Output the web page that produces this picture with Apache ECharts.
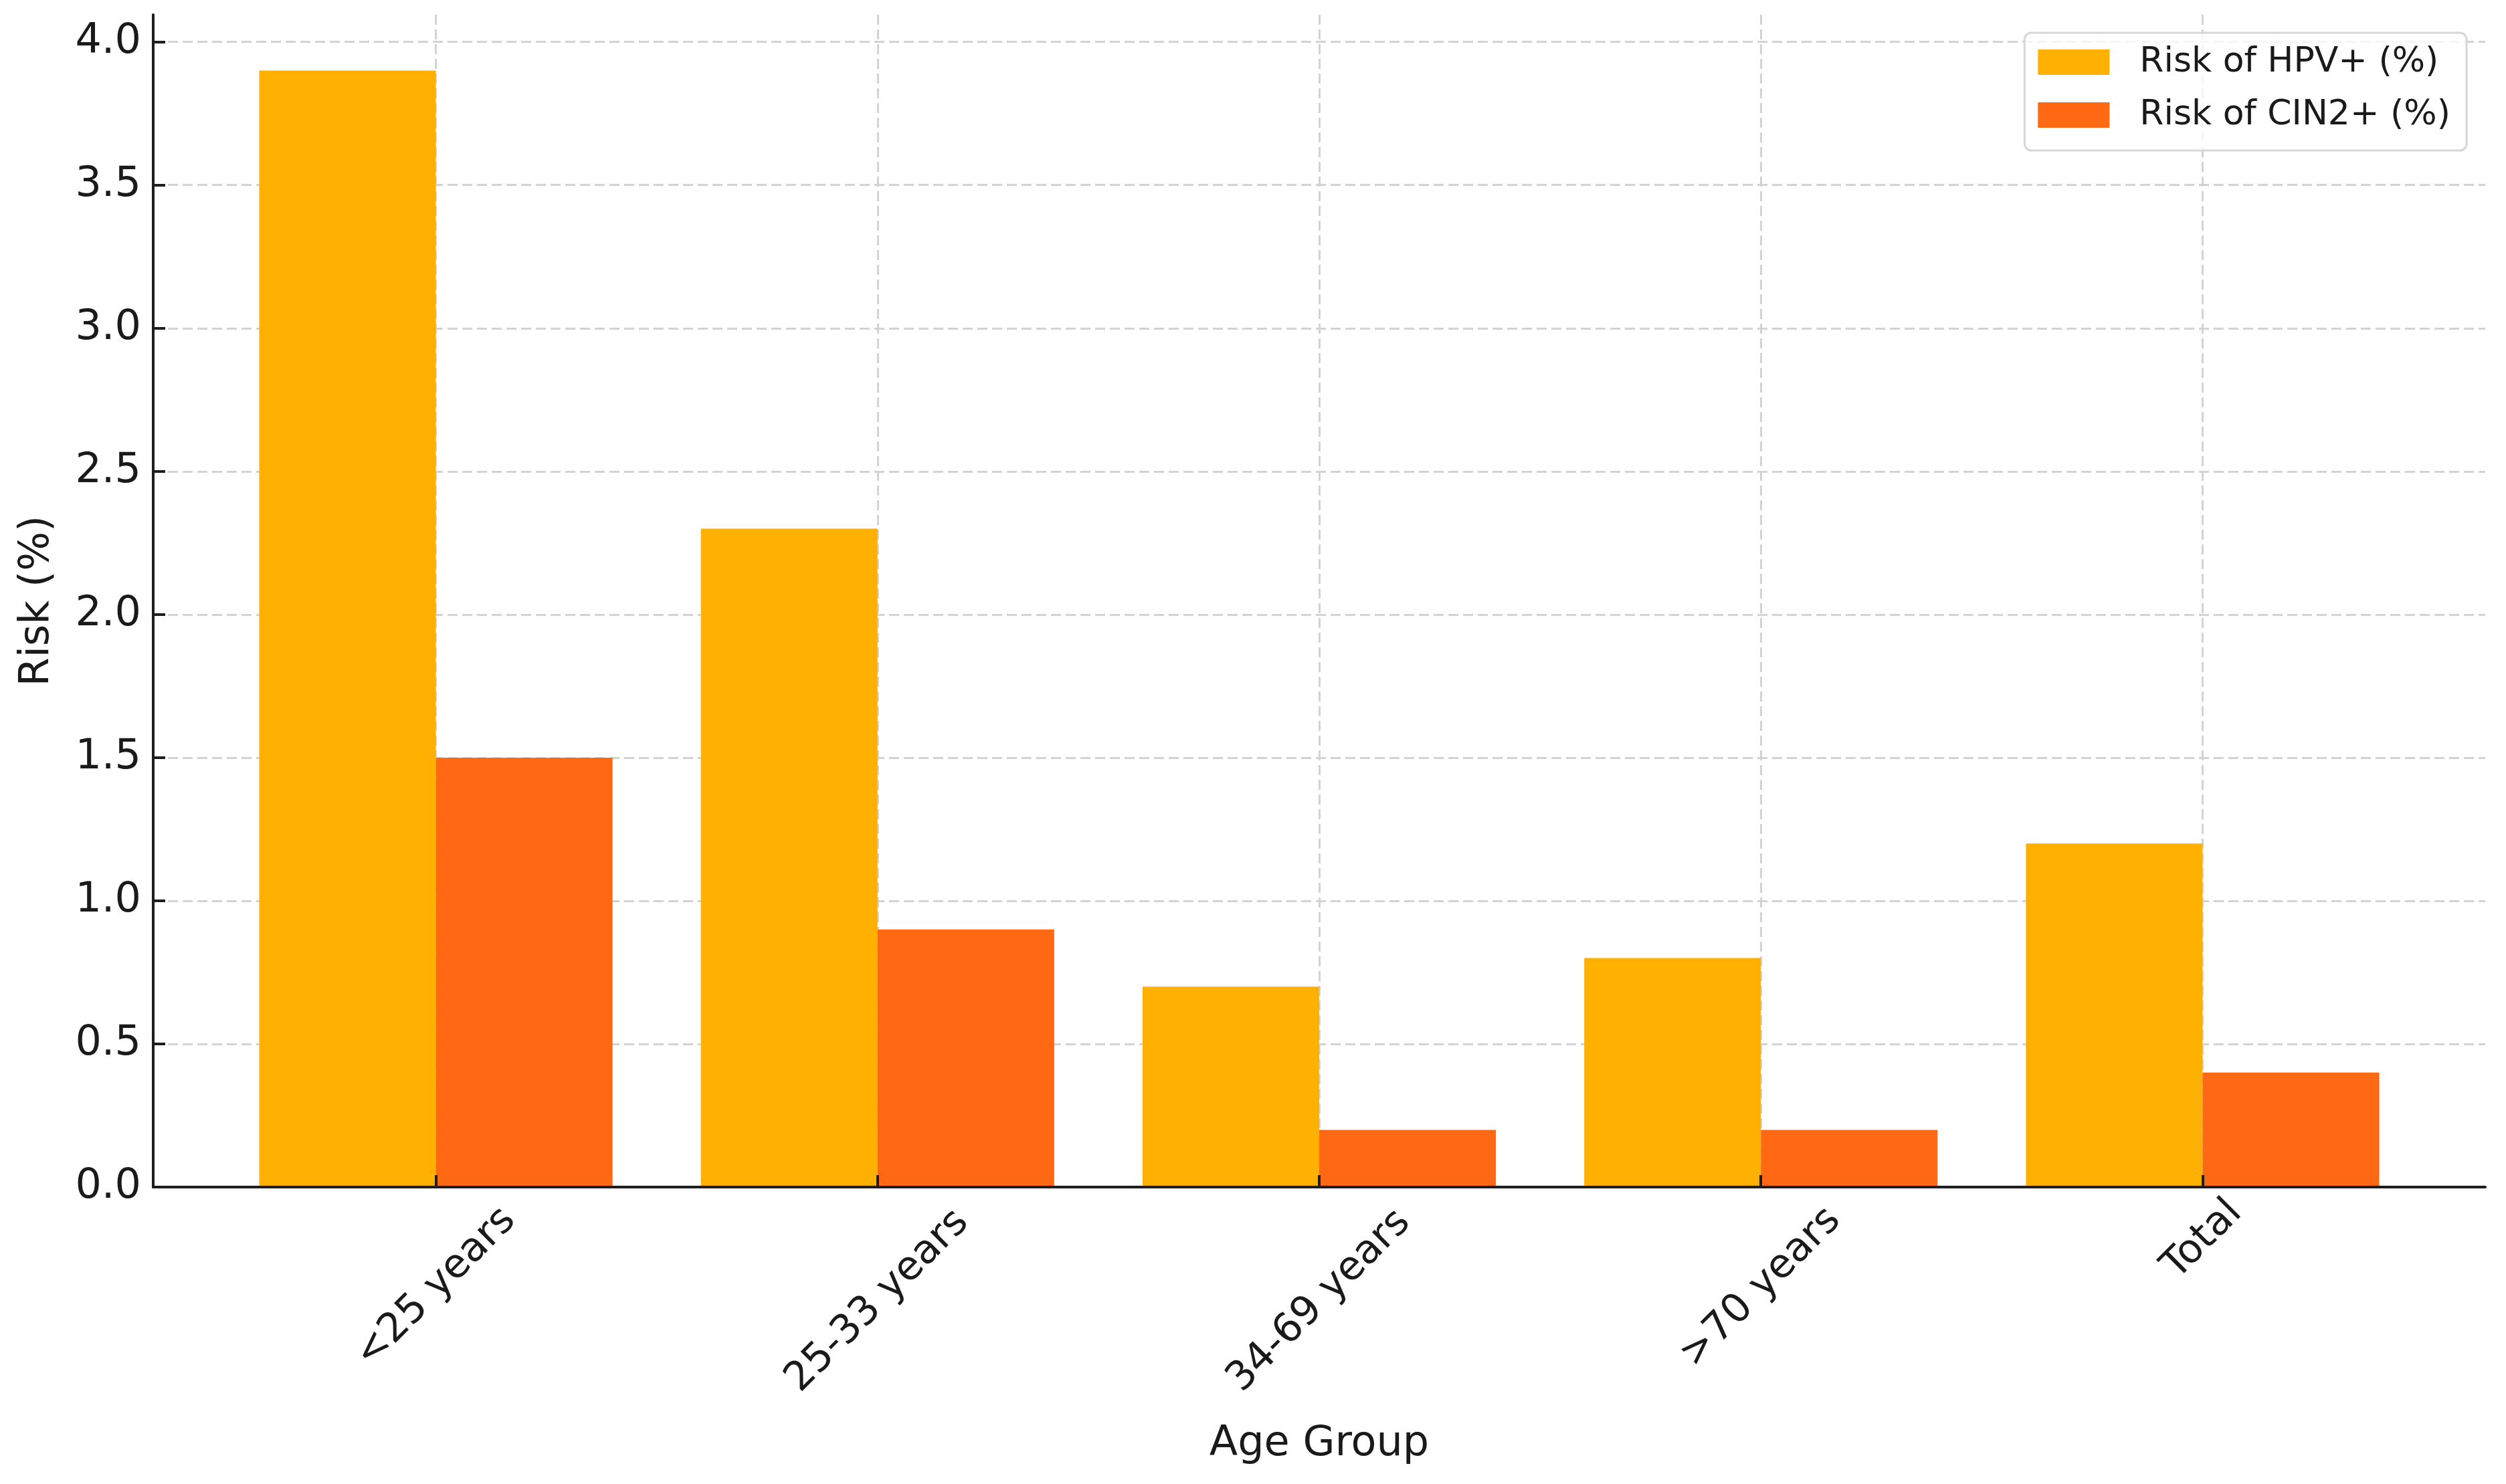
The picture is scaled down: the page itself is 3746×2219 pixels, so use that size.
<!DOCTYPE html>
<html>
<head>
<meta charset="utf-8">
<script src="https://cdn.jsdelivr.net/npm/echarts@6/dist/echarts.min.js"></script>
<style>
html, body { margin: 0; padding: 0; background: #ffffff; }
#chart { width: 3746px; height: 2219px; }
</style>
</head>
<body>
<div id="chart"></div>
<script>
// ---- data ----
const categories = ['<25 years', '25-33 years', '34-69 years', '>70 years', 'Total'];
const hpvRisk = [3.9, 2.3, 0.7, 0.8, 1.2];
const cin2Risk = [1.5, 0.9, 0.2, 0.2, 0.4];
const seriesNames = ['Risk of HPV+ (%)', 'Risk of CIN2+ (%)'];
const yTicks = [0, 0.5, 1.0, 1.5, 2.0, 2.5, 3.0, 3.5, 4.0];
const xTitle = 'Age Group';
const yTitle = 'Risk (%)';

// ---- styling ----
const FONT = '"DejaVu Sans", "Noto Sans", sans-serif';
const TEXT = '#1a1a1a';
const AXIS = '#1e1e1e';
const GRIDC = '#d3d3d3';
const X_MIN = -0.64, X_MAX = 4.64, Y_MAX = 4.095;
const XLAB_SIZE = 60;
const catIdx = categories.map((_, i) => i);

const ctx = document.createElement('canvas').getContext('2d');
ctx.font = XLAB_SIZE + 'px "DejaVu Sans"';
// distance from the axis line to the centre of the rotated label
function labelMargin(t) { return 20 + 0.45 * ctx.measureText(t).width * 56 / XLAB_SIZE; }

const gridLine = { show: true, lineStyle: { color: GRIDC, width: 3, type: [15, 7] } };

const xAxes = [
  { // main: grid lines + title
    type: 'value', gridIndex: 0, position: 'bottom', min: X_MIN, max: X_MAX,
    axisLine: { show: false, onZero: false }, axisTick: { show: false, customValues: catIdx },
    axisLabel: { show: false }, splitLine: gridLine,
    name: xTitle, nameLocation: 'middle', nameGap: 354, nameMoveOverlap: false,
    nameTextStyle: { fontSize: 62, fontFamily: FONT, color: TEXT }
  },
  { // overlay: spine + inward ticks above bars
    type: 'value', gridIndex: 0, position: 'bottom', min: X_MIN, max: X_MAX, z: 5,
    axisLine: { show: true, onZero: false, lineStyle: { color: AXIS, width: 4 } },
    axisTick: { show: true, inside: true, length: 18, customValues: catIdx, lineStyle: { color: AXIS, width: 4 } },
    axisLabel: { show: false }, splitLine: { show: false }
  }
];
catIdx.forEach(i => {
  xAxes.push({
    type: 'value', gridIndex: 0, position: 'bottom', min: X_MIN, max: X_MAX,
    axisLine: { show: false, onZero: false }, axisTick: { show: false, customValues: [i] }, splitLine: { show: false },
    axisLabel: {
      show: true, customValues: [i], rotate: 45, align: 'center', verticalAlign: 'middle',
      margin: labelMargin(categories[i]), fontSize: XLAB_SIZE, fontFamily: FONT, color: TEXT,
      formatter: v => categories[Math.round(v)]
    }
  });
});

const chart = echarts.init(document.getElementById('chart'), null, { renderer: 'canvas' });
chart.setOption({
  backgroundColor: '#ffffff',
  animation: false,
  grid: { left: 229, right: 31, top: 22, bottom: 444, containLabel: false, outerBoundsMode: 'none' },
  legend: {
    orient: 'vertical', right: 59, top: 49, align: 'left',
    itemWidth: 107, itemHeight: 38, itemGap: 27,
    padding: [18, 24, 27, 20],
    borderColor: '#d6d6d6', borderWidth: 3, borderRadius: 10,
    backgroundColor: 'rgba(255,255,255,0.8)',
    icon: 'rect',
    textStyle: { fontSize: 52, fontFamily: FONT, color: TEXT, lineHeight: 52, padding: [0, 0, 0, 40] },
    data: seriesNames
  },
  xAxis: xAxes,
  yAxis: {
    type: 'value', min: 0, max: Y_MAX,
    axisLine: { show: true, onZero: false, lineStyle: { color: AXIS, width: 4 } },
    axisTick: { show: true, inside: true, length: 18, customValues: yTicks, lineStyle: { color: AXIS, width: 4 } },
    axisLabel: { customValues: yTicks, formatter: v => v.toFixed(1), fontSize: 62, fontFamily: FONT, color: TEXT, margin: 18 },
    splitLine: gridLine,
    name: yTitle, nameLocation: 'middle', nameGap: 142, nameMoveOverlap: false,
    nameTextStyle: { fontSize: 62, fontFamily: FONT, color: TEXT }
  },
  series: [
    {
      type: 'bar', name: seriesNames[0], xAxisIndex: 0, yAxisIndex: 0,
      data: catIdx.map(i => [i, hpvRisk[i]]),
      barWidth: '40%', barGap: '0%',
      itemStyle: { color: '#FFB000' }
    },
    {
      type: 'bar', name: seriesNames[1], xAxisIndex: 0, yAxisIndex: 0,
      data: catIdx.map(i => [i, cin2Risk[i]]),
      barWidth: '40%', barGap: '0%',
      itemStyle: { color: '#FF6914' }
    }
  ]
});
</script>
</body>
</html>
